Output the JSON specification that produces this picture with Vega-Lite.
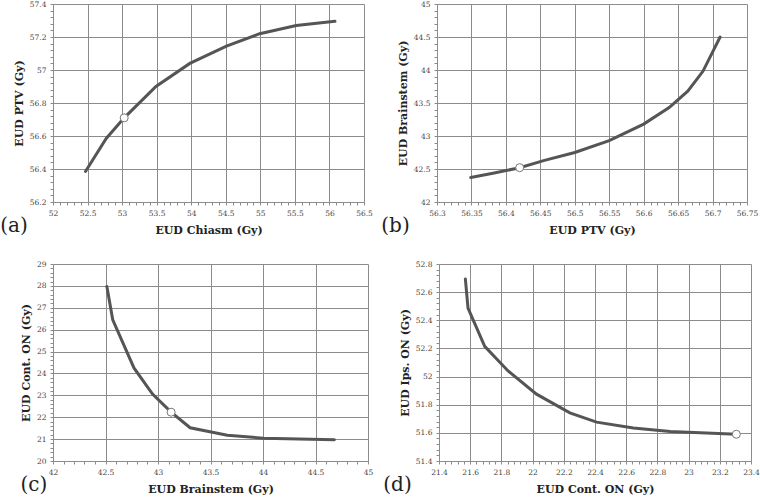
{
  "$schema": "https://vega.github.io/schema/vega-lite/v6.json",
  "background": "white",
  "padding": 0,
  "datasets": {
    "a": [
      {"x": 52.47, "y": 56.385}, {"x": 52.77, "y": 56.585}, {"x": 53.03, "y": 56.71}, {"x": 53.49, "y": 56.9},
      {"x": 53.98, "y": 57.04}, {"x": 54.51, "y": 57.145}, {"x": 54.99, "y": 57.22}, {"x": 55.52, "y": 57.27}, {"x": 56.08, "y": 57.295}
    ],
    "am": [{"x": 53.03, "y": 56.71}],
    "b": [
      {"x": 56.349, "y": 42.37}, {"x": 56.383, "y": 42.44}, {"x": 56.42, "y": 42.52}, {"x": 56.456, "y": 42.63},
      {"x": 56.5, "y": 42.75}, {"x": 56.55, "y": 42.93}, {"x": 56.6, "y": 43.18}, {"x": 56.637, "y": 43.43},
      {"x": 56.664, "y": 43.68}, {"x": 56.686, "y": 43.98}, {"x": 56.698, "y": 44.23}, {"x": 56.711, "y": 44.5}
    ],
    "bm": [{"x": 56.42, "y": 42.52}],
    "c": [
      {"x": 42.513, "y": 27.97}, {"x": 42.569, "y": 26.45}, {"x": 42.771, "y": 24.25}, {"x": 42.948, "y": 23.06},
      {"x": 43.125, "y": 22.23}, {"x": 43.306, "y": 21.52}, {"x": 43.66, "y": 21.18}, {"x": 44.005, "y": 21.04}, {"x": 44.68, "y": 20.97}
    ],
    "cm": [{"x": 43.125, "y": 22.23}],
    "d": [
      {"x": 21.569, "y": 52.694}, {"x": 21.586, "y": 52.486}, {"x": 21.693, "y": 52.215}, {"x": 21.843, "y": 52.04},
      {"x": 22.025, "y": 51.875}, {"x": 22.239, "y": 51.742}, {"x": 22.41, "y": 51.676}, {"x": 22.646, "y": 51.634},
      {"x": 22.882, "y": 51.61}, {"x": 23.306, "y": 51.59}
    ],
    "dm": [{"x": 23.306, "y": 51.59}]
  },
  "config": {
    "view": {"stroke": null},
    "axis": {
      "labelFont": "DejaVu Serif", "labelFontSize": 7.5, "labelColor": "#444",
      "titleFont": "DejaVu Serif", "titleFontSize": 11, "titleFontWeight": "bold", "titleColor": "#222",
      "gridColor": "#8c8c8c", "gridWidth": 1, "domainColor": "#8c8c8c", "tickColor": "#8c8c8c",
      "tickSize": 3, "labelPadding": 4, "titlePadding": 5, "labelFlush": false, "labelOverlap": false
    },
    "axisX": {"titlePadding": 8},
    "title": {"font": "DejaVu Serif", "fontSize": 20, "fontWeight": "normal", "color": "#222"}
  },
  "vconcat": [
    {
      "hconcat": [
        {
          "width": 311, "height": 198,
          "title": {"text": "(a)", "orient": "bottom", "anchor": "start", "frame": "bounds", "baseline": "bottom", "offset": 0, "dx": -13},
          "layer": [
            {
              "data": {"name": "a"},
              "mark": {"type": "line", "color": "#555", "strokeWidth": 3, "strokeCap": "round"},
              "encoding": {
                "x": {"field": "x", "type": "quantitative", "scale": {"domain": [52, 56.5], "nice": false, "zero": false},
                  "axis": {"title": "EUD Chiasm (Gy)", "tickCount": 1000,
                    "values": [52,52.1,52.2,52.3,52.4,52.5,52.6,52.7,52.8,52.9,53,53.1,53.2,53.3,53.4,53.5,53.6,53.7,53.8,53.9,54,54.1,54.2,54.3,54.4,54.5,54.6,54.7,54.8,54.9,55,55.1,55.2,55.3,55.4,55.5,55.6,55.7,55.8,55.9,56,56.1,56.2,56.3,56.4,56.5],
                    "labelExpr": "abs(datum.value/0.5 - round(datum.value/0.5)) < 0.001 ? format(datum.value, '.6~g') : ''",
                    "gridOpacity": {"condition": {"test": "abs(datum.value/0.5 - round(datum.value/0.5)) < 0.001", "value": 1}, "value": 0}}},
                "y": {"field": "y", "type": "quantitative", "scale": {"domain": [56.2, 57.4], "nice": false, "zero": false},
                  "axis": {"title": "EUD PTV (Gy)", "tickCount": 1000,
                    "values": [56.2,56.24,56.28,56.32,56.36,56.4,56.44,56.48,56.52,56.56,56.6,56.64,56.68,56.72,56.76,56.8,56.84,56.88,56.92,56.96,57,57.04,57.08,57.12,57.16,57.2,57.24,57.28,57.32,57.36,57.4],
                    "labelExpr": "abs(datum.value/0.2 - round(datum.value/0.2)) < 0.001 ? format(datum.value, '.6~g') : ''",
                    "gridOpacity": {"condition": {"test": "abs(datum.value/0.2 - round(datum.value/0.2)) < 0.001", "value": 1}, "value": 0}}}
              }
            },
            {
              "data": {"name": "am"},
              "mark": {"type": "point", "filled": true, "fill": "white", "stroke": "#777", "strokeWidth": 1, "size": 64, "opacity": 1},
              "encoding": {"x": {"field": "x", "type": "quantitative"}, "y": {"field": "y", "type": "quantitative"}}
            }
          ]
        },
        {
          "width": 310, "height": 198,
          "title": {"text": "(b)", "orient": "bottom", "anchor": "start", "frame": "bounds", "baseline": "bottom", "offset": 0, "dx": -16},
          "layer": [
            {
              "data": {"name": "b"},
              "mark": {"type": "line", "color": "#555", "strokeWidth": 3, "strokeCap": "round"},
              "encoding": {
                "x": {"field": "x", "type": "quantitative", "scale": {"domain": [56.3, 56.75], "nice": false, "zero": false},
                  "axis": {"title": "EUD PTV (Gy)", "tickCount": 1000,
                    "values": [56.3,56.31,56.32,56.33,56.34,56.35,56.36,56.37,56.38,56.39,56.4,56.41,56.42,56.43,56.44,56.45,56.46,56.47,56.48,56.49,56.5,56.51,56.52,56.53,56.54,56.55,56.56,56.57,56.58,56.59,56.6,56.61,56.62,56.63,56.64,56.65,56.66,56.67,56.68,56.69,56.7,56.71,56.72,56.73,56.74,56.75],
                    "labelExpr": "abs(datum.value/0.05 - round(datum.value/0.05)) < 0.001 ? format(datum.value, '.6~g') : ''",
                    "gridOpacity": {"condition": {"test": "abs(datum.value/0.05 - round(datum.value/0.05)) < 0.001", "value": 1}, "value": 0}}},
                "y": {"field": "y", "type": "quantitative", "scale": {"domain": [42, 45], "nice": false, "zero": false},
                  "axis": {"title": "EUD Brainstem (Gy)", "tickCount": 1000,
                    "values": [42,42.1,42.2,42.3,42.4,42.5,42.6,42.7,42.8,42.9,43,43.1,43.2,43.3,43.4,43.5,43.6,43.7,43.8,43.9,44,44.1,44.2,44.3,44.4,44.5,44.6,44.7,44.8,44.9,45],
                    "labelExpr": "abs(datum.value/0.5 - round(datum.value/0.5)) < 0.001 ? format(datum.value, '.6~g') : ''",
                    "gridOpacity": {"condition": {"test": "abs(datum.value/0.5 - round(datum.value/0.5)) < 0.001", "value": 1}, "value": 0}}}
              }
            },
            {
              "data": {"name": "bm"},
              "mark": {"type": "point", "filled": true, "fill": "white", "stroke": "#777", "strokeWidth": 1, "size": 64, "opacity": 1},
              "encoding": {"x": {"field": "x", "type": "quantitative"}, "y": {"field": "y", "type": "quantitative"}}
            }
          ]
        }
      ],
      "spacing": 8
    },
    {
      "hconcat": [
        {
          "width": 315, "height": 197,
          "title": {"text": "(c)", "orient": "bottom", "anchor": "start", "frame": "bounds", "baseline": "bottom", "offset": 0, "dx": 0},
          "layer": [
            {
              "data": {"name": "c"},
              "mark": {"type": "line", "color": "#555", "strokeWidth": 3, "strokeCap": "round"},
              "encoding": {
                "x": {"field": "x", "type": "quantitative", "scale": {"domain": [42, 45], "nice": false, "zero": false},
                  "axis": {"title": "EUD Brainstem (Gy)", "tickCount": 1000,
                    "values": [42,42.1,42.2,42.3,42.4,42.5,42.6,42.7,42.8,42.9,43,43.1,43.2,43.3,43.4,43.5,43.6,43.7,43.8,43.9,44,44.1,44.2,44.3,44.4,44.5,44.6,44.7,44.8,44.9,45],
                    "labelExpr": "abs(datum.value/0.5 - round(datum.value/0.5)) < 0.001 ? format(datum.value, '.6~g') : ''",
                    "gridOpacity": {"condition": {"test": "abs(datum.value/0.5 - round(datum.value/0.5)) < 0.001", "value": 1}, "value": 0}}},
                "y": {"field": "y", "type": "quantitative", "scale": {"domain": [20, 29], "nice": false, "zero": false},
                  "axis": {"title": "EUD Cont. ON (Gy)", "tickCount": 1000,
                    "values": [20,20.2,20.4,20.6,20.8,21,21.2,21.4,21.6,21.8,22,22.2,22.4,22.6,22.8,23,23.2,23.4,23.6,23.8,24,24.2,24.4,24.6,24.8,25,25.2,25.4,25.6,25.8,26,26.2,26.4,26.6,26.8,27,27.2,27.4,27.6,27.8,28,28.2,28.4,28.6,28.8,29],
                    "labelExpr": "abs(datum.value - round(datum.value)) < 0.001 ? format(datum.value, '.6~g') : ''",
                    "gridOpacity": {"condition": {"test": "abs(datum.value - round(datum.value)) < 0.001", "value": 1}, "value": 0}}}
              }
            },
            {
              "data": {"name": "cm"},
              "mark": {"type": "point", "filled": true, "fill": "white", "stroke": "#777", "strokeWidth": 1, "size": 64, "opacity": 1},
              "encoding": {"x": {"field": "x", "type": "quantitative"}, "y": {"field": "y", "type": "quantitative"}}
            }
          ]
        },
        {
          "width": 312, "height": 197,
          "title": {"text": "(d)", "orient": "bottom", "anchor": "start", "frame": "bounds", "baseline": "bottom", "offset": 0, "dx": -16},
          "layer": [
            {
              "data": {"name": "d"},
              "mark": {"type": "line", "color": "#555", "strokeWidth": 3, "strokeCap": "round"},
              "encoding": {
                "x": {"field": "x", "type": "quantitative", "scale": {"domain": [21.4, 23.4], "nice": false, "zero": false},
                  "axis": {"title": "EUD Cont. ON (Gy)", "tickCount": 1000,
                    "values": [21.4,21.44,21.48,21.52,21.56,21.6,21.64,21.68,21.72,21.76,21.8,21.84,21.88,21.92,21.96,22,22.04,22.08,22.12,22.16,22.2,22.24,22.28,22.32,22.36,22.4,22.44,22.48,22.52,22.56,22.6,22.64,22.68,22.72,22.76,22.8,22.84,22.88,22.92,22.96,23,23.04,23.08,23.12,23.16,23.2,23.24,23.28,23.32,23.36,23.4],
                    "labelExpr": "abs(datum.value/0.2 - round(datum.value/0.2)) < 0.001 ? format(datum.value, '.6~g') : ''",
                    "gridOpacity": {"condition": {"test": "abs(datum.value/0.2 - round(datum.value/0.2)) < 0.001", "value": 1}, "value": 0}}},
                "y": {"field": "y", "type": "quantitative", "scale": {"domain": [51.4, 52.8], "nice": false, "zero": false},
                  "axis": {"title": "EUD Ips. ON (Gy)", "tickCount": 1000,
                    "values": [51.4,51.44,51.48,51.52,51.56,51.6,51.64,51.68,51.72,51.76,51.8,51.84,51.88,51.92,51.96,52,52.04,52.08,52.12,52.16,52.2,52.24,52.28,52.32,52.36,52.4,52.44,52.48,52.52,52.56,52.6,52.64,52.68,52.72,52.76,52.8],
                    "labelExpr": "abs(datum.value/0.2 - round(datum.value/0.2)) < 0.001 ? format(datum.value, '.6~g') : ''",
                    "gridOpacity": {"condition": {"test": "abs(datum.value/0.2 - round(datum.value/0.2)) < 0.001", "value": 1}, "value": 0}}}
              }
            },
            {
              "data": {"name": "dm"},
              "mark": {"type": "point", "filled": true, "fill": "white", "stroke": "#777", "strokeWidth": 1, "size": 64, "opacity": 1},
              "encoding": {"x": {"field": "x", "type": "quantitative"}, "y": {"field": "y", "type": "quantitative"}}
            }
          ]
        }
      ],
      "spacing": 10
    }
  ],
  "spacing": 24
}
